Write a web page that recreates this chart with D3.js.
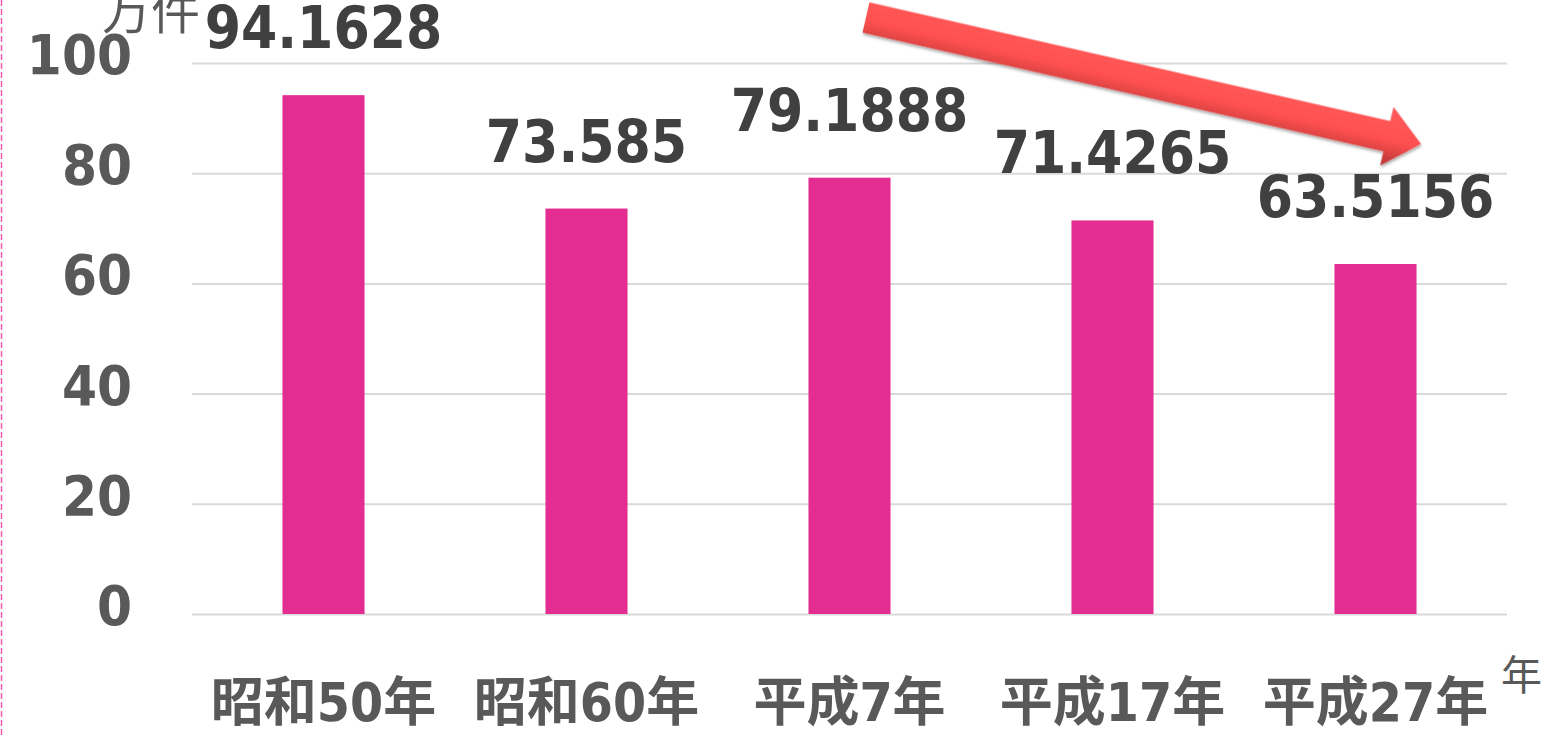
<!DOCTYPE html>
<html><head><meta charset="utf-8">
<script src="https://cdn.jsdelivr.net/npm/d3@7"></script>
<style>
html,body{margin:0;padding:0;background:#fff;overflow:hidden;}
</style></head>
<body>
<svg id="chart" width="1545" height="737"></svg>
<script>
const categories = ["昭和50年", "昭和60年", "平成7年", "平成17年", "平成27年"];
const values = [94.1628, 73.585, 79.1888, 71.4265, 63.5156];
const yTicks = [0, 20, 40, 60, 80, 100];
const yUnit = "万件";
const xUnit = "年";

const svg = d3.select("#chart");
const numFont = "'DejaVu Sans Condensed', 'DejaVu Sans', sans-serif";
const cjkFont = "'DejaVu Sans Condensed', 'DejaVu Sans', 'Noto Sans CJK JP', sans-serif";

const x = d3.scaleBand().domain(categories).range([192, 1507]).paddingInner(0.688).paddingOuter(0.344);
const y = d3.scaleLinear().domain([0, 100]).range([614, 63]);

// left dashed border
svg.append("line").attr("x1", 1.5).attr("x2", 1.5).attr("y1", 0).attr("y2", 737)
  .attr("stroke", "#EC5CAF").attr("stroke-width", 1.5).attr("stroke-dasharray", "6,3");

// gridlines
svg.append("g").selectAll("line").data(yTicks).join("line")
  .attr("x1", 192).attr("x2", 1507)
  .attr("y1", d => y(d) + 0.5).attr("y2", d => y(d) + 0.5)
  .attr("stroke", "#D9D9D9").attr("stroke-width", 2);

// y tick labels
svg.append("g").selectAll("text").data(yTicks).join("text")
  .attr("x", 132).attr("y", d => y(d) + 11)
  .attr("text-anchor", "end")
  .attr("font-family", numFont).attr("font-weight", "bold").attr("font-size", 56)
  .attr("fill", "#595959").text(d => d);

// bars
svg.append("g").selectAll("rect").data(values).join("rect")
  .attr("x", (d, i) => x(categories[i]))
  .attr("width", x.bandwidth())
  .attr("y", d => y(d))
  .attr("height", d => y(0) - y(d))
  .attr("fill", "#E32D91");

// value labels
svg.append("g").selectAll("text").data(values).join("text")
  .attr("x", (d, i) => x(categories[i]) + x.bandwidth() / 2)
  .attr("y", d => y(d) - 47)
  .attr("text-anchor", "middle")
  .attr("font-family", numFont).attr("font-weight", "bold").attr("font-size", 58)
  .attr("fill", "#404040").text(d => d);

// x labels
svg.append("g").selectAll("text").data(categories).join("text")
  .attr("x", d => x(d) + x.bandwidth() / 2)
  .attr("y", 721)
  .attr("text-anchor", "middle")
  .attr("font-family", cjkFont).attr("font-weight", "bold").attr("font-size", 53)
  .attr("fill", "#595959").text(d => d);

// unit labels
svg.append("text").attr("x", 102).attr("y", 29)
  .attr("font-family", "'Noto Sans CJK JP', sans-serif").attr("font-size", 49)
  .attr("fill", "#595959").text(yUnit);
svg.append("text").attr("x", 1501).attr("y", 690)
  .attr("font-family", "'Noto Sans CJK JP', sans-serif").attr("font-size", 41)
  .attr("fill", "#595959").text(xUnit);

// decorative trend arrow
const defs = svg.append("defs");
const grad = defs.append("linearGradient").attr("id", "arrowGrad")
  .attr("x1", 0).attr("y1", 0).attr("x2", 0).attr("y2", 1);
grad.append("stop").attr("offset", "0%").attr("stop-color", "#FF5A5A");
grad.append("stop").attr("offset", "55%").attr("stop-color", "#FF5050");
grad.append("stop").attr("offset", "100%").attr("stop-color", "#B83434");
const flt = defs.append("filter").attr("id", "arrowShadow").attr("x", "-10%").attr("y", "-50%").attr("width", "120%").attr("height", "200%");
flt.append("feDropShadow").attr("dx", 1).attr("dy", 2).attr("stdDeviation", 1.5).attr("flood-color", "#000").attr("flood-opacity", 0.35);

const tail = [866, 17.5], tip = [1421, 144];
const L = Math.hypot(tip[0] - tail[0], tip[1] - tail[1]);
const ang = Math.atan2(tip[1] - tail[1], tip[0] - tail[0]) * 180 / Math.PI;
const hw = 15.5, headW = 30, headL = 35;
const pts = [[0, -hw], [L - headL, -hw], [L - headL, -headW], [L, 0], [L - headL, headW], [L - headL, hw], [0, hw]];
svg.append("g").attr("transform", `translate(${tail[0]},${tail[1]}) rotate(${ang})`)
  .append("path")
  .attr("d", d3.line()(pts) + "Z")
  .attr("fill", "url(#arrowGrad)")
  .attr("filter", "url(#arrowShadow)");
</script>
</body></html>
